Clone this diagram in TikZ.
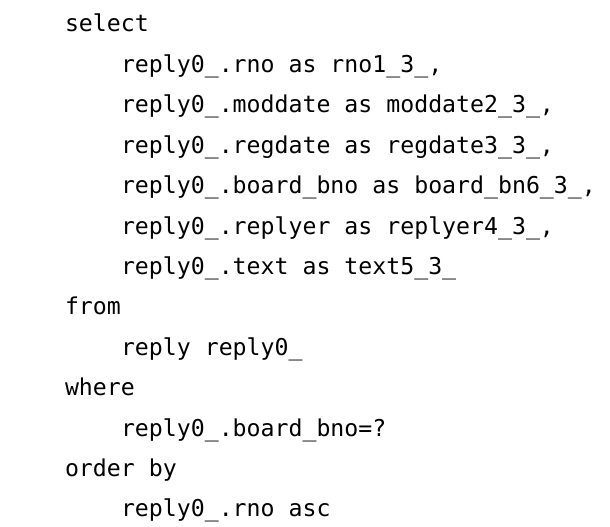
\documentclass[tikz,border=0pt]{standalone}
\usepackage{fontspec}
\setmonofont{DejaVu Sans Mono}
\begin{document}
\begin{tikzpicture}[x=1pt,y=-1pt,
  codeline/.style={anchor=base west,inner sep=0pt,outer sep=0pt,font=\ttfamily\fontsize{23.2}{28}\selectfont,text=black}]
\useasboundingbox[fill=white] (0,0) rectangle (610,527);
\def\xa{65}
\def\xb{121}
\node[codeline] (l1)  at (\xa,32)   {select};
\node[codeline] (l2)  at (\xb,72.4) {reply0\_.rno as rno1\_3\_,};
\node[codeline] (l3)  at (\xb,112.8) {reply0\_.moddate as moddate2\_3\_,};
\node[codeline] (l4)  at (\xb,153.2) {reply0\_.regdate as regdate3\_3\_,};
\node[codeline] (l5)  at (\xb,193.6) {reply0\_.board\_bno as board\_bn6\_3\_,};
\node[codeline] (l6)  at (\xb,234)  {reply0\_.replyer as replyer4\_3\_,};
\node[codeline] (l7)  at (\xb,274.4) {reply0\_.text as text5\_3\_};
\node[codeline] (l8)  at (\xa,314.8) {from};
\node[codeline] (l9)  at (\xb,355.2) {reply reply0\_};
\node[codeline] (l10) at (\xa,395.6) {where};
\node[codeline] (l11) at (\xb,436)  {reply0\_.board\_bno=?};
\node[codeline] (l12) at (\xa,476.4) {order by};
\node[codeline] (l13) at (\xb,516.8) {reply0\_.rno asc};
\end{tikzpicture}
\end{document}
